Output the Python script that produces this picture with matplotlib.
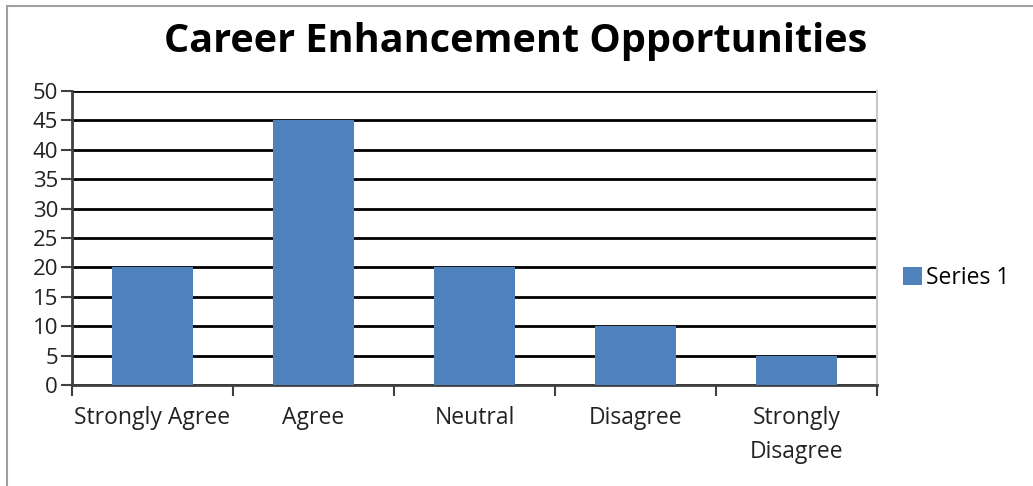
import matplotlib.pyplot as plt
from matplotlib.patches import Rectangle

categories = ["Strongly Agree", "Agree", "Neutral", "Disagree", "Strongly\nDisagree"]
series_1 = [20, 45, 20, 10, 5]
y_ticks = list(range(0, 55, 5))

BAR_COLOR = "#4F81BD"

plt.rcParams["font.family"] = ["Open Sans", "DejaVu Sans"]

fig = plt.figure(figsize=(10.33, 4.86), dpi=100)
ax = fig.add_axes([72 / 1033, 1 - 385 / 486, (877 - 72) / 1033, (385 - 91) / 486])

# outer chart frame
fig.patches.append(Rectangle((7 / 1033, -0.1), 1.2, 1 - 6 / 486 + 0.1,
                             transform=fig.transFigure, fill=False,
                             edgecolor="#a0a0a0", linewidth=1.5))

xs = list(range(len(categories)))
ax.bar(xs, series_1, width=0.5, color=BAR_COLOR, label="Series 1", zorder=3)

ax.set_xlim(-0.5, len(categories) - 0.5)
ax.set_ylim(0, 50)
ax.set_yticks(y_ticks)
ax.tick_params(axis="y", labelsize=16, length=8, width=1.5, color="#404040",
               pad=2, labelcolor="#222222")

# category labels sit between the boundary ticks
ax.set_xticks([x - 0.5 for x in xs] + [len(categories) - 0.5])
ax.set_xticklabels([])
ax.set_xticks(xs, minor=True)
ax.set_xticklabels(categories, minor=True, fontsize=16.5, color="#222222",
                   linespacing=1.55)
ax.tick_params(axis="x", which="minor", length=0, pad=15)
ax.tick_params(axis="x", which="major", length=8, width=1.5, color="#404040")

ax.yaxis.grid(True, color="black", linewidth=2, zorder=1)
ax.set_axisbelow(True)
ax.spines["top"].set_visible(False)
ax.spines["left"].set_color("#404040")
ax.spines["left"].set_linewidth(2)
ax.spines["bottom"].set_color("#404040")
ax.spines["bottom"].set_linewidth(2)
ax.spines["right"].set_color("#c8c8c8")
ax.spines["right"].set_linewidth(1.5)

fig.text(516 / 1033, 1 - 52 / 486, "Career Enhancement Opportunities",
         ha="center", va="baseline", fontsize=28.5, fontweight="bold")

fig.legend(loc="center left", bbox_to_anchor=(892 / 1033, 1 - 278 / 486),
           frameon=False, fontsize=16.5, handlelength=0.8, handleheight=0.8,
           handletextpad=0.2, borderpad=0)

fig.savefig("out.png", dpi=100)
